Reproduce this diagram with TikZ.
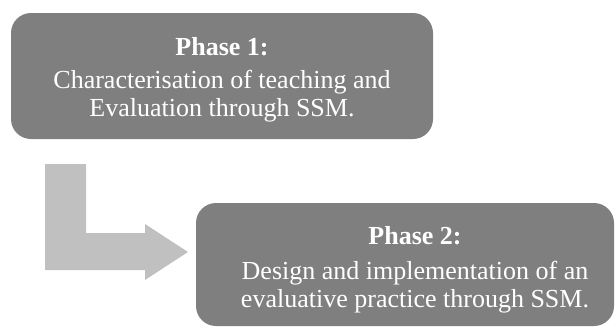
\documentclass[tikz,border=0pt]{standalone}
\usepackage{fontspec}
\setmainfont{Liberation Serif}
\definecolor{phasegray}{HTML}{7F7F7F}
\definecolor{flowgray}{HTML}{C0C0C0}
\begin{document}
\begin{tikzpicture}[x=1pt,y=-1pt,
  phasebox/.style={text=white, align=center, inner sep=0pt,
    font=\fontsize{26}{28}\selectfont},
  flowarrow/.style={fill=flowgray, draw=none}]
\useasboundingbox (0,0) rectangle (615,327);
% phase boxes
\fill[phasegray, rounded corners=20pt] (11,13) rectangle (433,139);
\node[phasebox] (p1) at (222,80)
  {\textbf{Phase 1:}\\[5pt]Characterisation of teaching and\\Evaluation through SSM.};
\fill[phasegray, rounded corners=20pt] (196,203) rectangle (614,326);
\node[phasebox] (p2) at (415,270)
  {\textbf{Phase 2:}\\[7pt]Design and implementation of an\\evaluative practice through SSM.};
% bent block arrow from phase 1 to phase 2
\fill[flowarrow] (45,164) -- (86,164) -- (86,233) -- (145,233) -- (145,224)
  -- (188,252) -- (145,280) -- (145,270) -- (45,270) -- cycle;
\end{tikzpicture}
\end{document}
